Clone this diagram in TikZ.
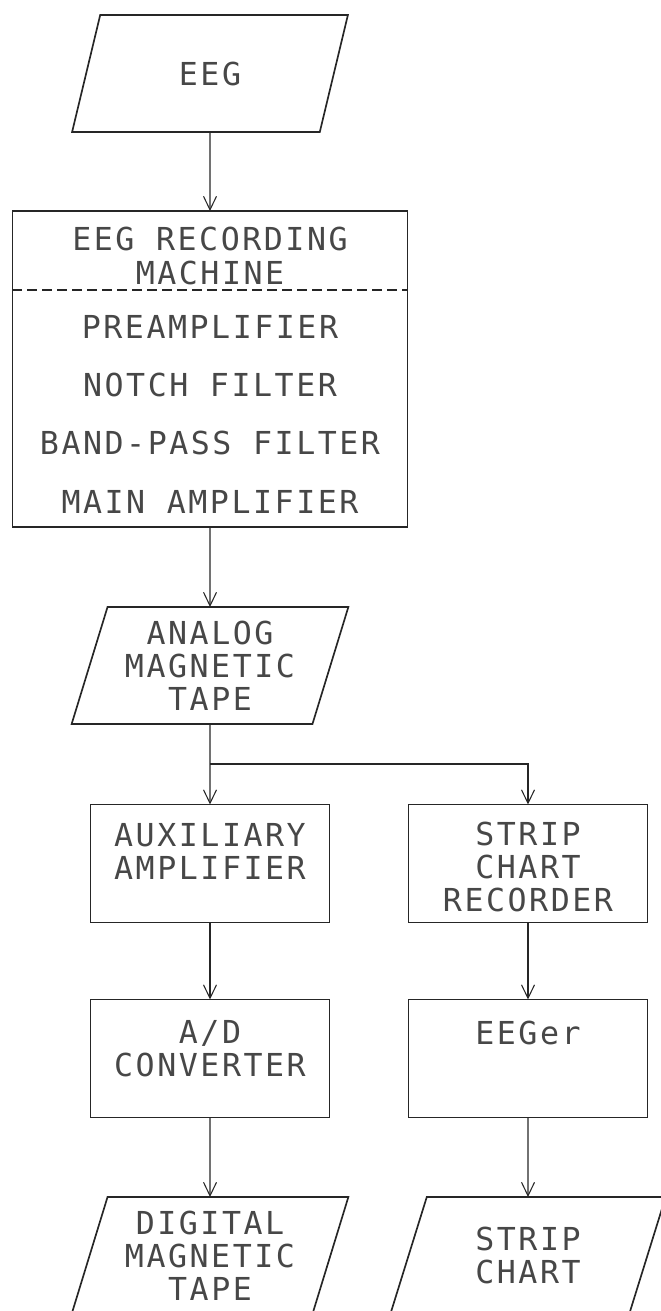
\documentclass[tikz,border=0pt]{standalone}
\usepackage{fontspec}
\setmonofont{DejaVu Sans Mono}[LetterSpace=8]
\usetikzlibrary{positioning, arrows.meta, calc, shapes.geometric}

\def\px{0.02cm}

\begin{document}
\begin{tikzpicture}[
    x=0.02cm, y=-0.02cm,
    plot/.style={font=\ttfamily\fontsize{18}{18.8}\selectfont, text=black!72, align=center, inner sep=0pt},
    box/.style={draw=black!85, line width=0.95pt, minimum width=239*\px, minimum height=118*\px, inner sep=0pt, outer sep=0pt},
    tape/.style={trapezium, trapezium left angle=71.6, trapezium right angle=108.4, trapezium stretches,
        draw=black!85, line width=0.95pt, minimum width=277*\px, minimum height=117*\px,
        inner sep=0pt, outer sep=0pt, plot},
    link/.style={draw=black!85, line width=0.6pt, -{Straight Barb[length=0.27cm, width=0.26cm]}},
]
    \useasboundingbox (0,0) rectangle (661,1311);

    % Input signal
    \node[tape] (eeg) at (210,73.5) {EEG};

    % Recording machine and its stages
    \node[box, minimum width=395*\px, minimum height=316*\px] (rec) at (210,369) {};
    \node[plot] (rec-t) at (210,256) {EEG RECORDING\\MACHINE};
    \draw[black!85, line width=0.8pt, dash pattern=on 0.2cm off 0.1cm]
        ($(rec.north west)+(0,79)$) -- ($(rec.north east)+(0,79)$);
    \foreach \y/\name [count=\i] in {327/PREAMPLIFIER, 385/NOTCH FILTER,
                                    443/BAND-PASS FILTER, 502/MAIN AMPLIFIER} {
        \node[plot] (stage\i) at (210,\y) {\name};
    }

    % Analog tape
    \node[tape] (ana) at (210,665.5) {ANALOG\\MAGNETIC\\TAPE};
    \coordinate (fork) at (210,764);

    % Left branch
    \node[box] (aux) at (210,863.5) {};
    \node[plot] (aux-t) at (210,851) {AUXILIARY\\AMPLIFIER};
    \node[box] (adc) at (210,1058.5) {};
    \node[plot] (adc-t) at (210,1049) {A/D\\CONVERTER};
    \node[tape] (dig) at (210,1255.5) {DIGITAL\\MAGNETIC\\TAPE};

    % Right branch
    \node[box] (strip) at (528,863.5) {};
    \node[plot] (strip-t) at (528,867) {STRIP\\CHART\\RECORDER};
    \node[box] (eeger) at (528,1058.5) {};
    \node[plot] (eeger-t) at (528,1033) {EEGer};
    \node[tape] (chart) at (528,1255.5) {STRIP\\CHART};

    % Arrows
    \draw[link] (eeg.south) -- (rec.north);
    \draw[link] (rec.south) -- (ana.north);
    \draw[link] (ana.south) -- (aux.north);
    \draw[link] (fork) -| (strip.north);
    \draw[link] (aux.south) -- (adc.north);
    \draw[link] (adc.south) -- (dig.north);
    \draw[link] (strip.south) -- (eeger.north);
    \draw[link] (eeger.south) -- (chart.north);

\end{tikzpicture}
\end{document}
